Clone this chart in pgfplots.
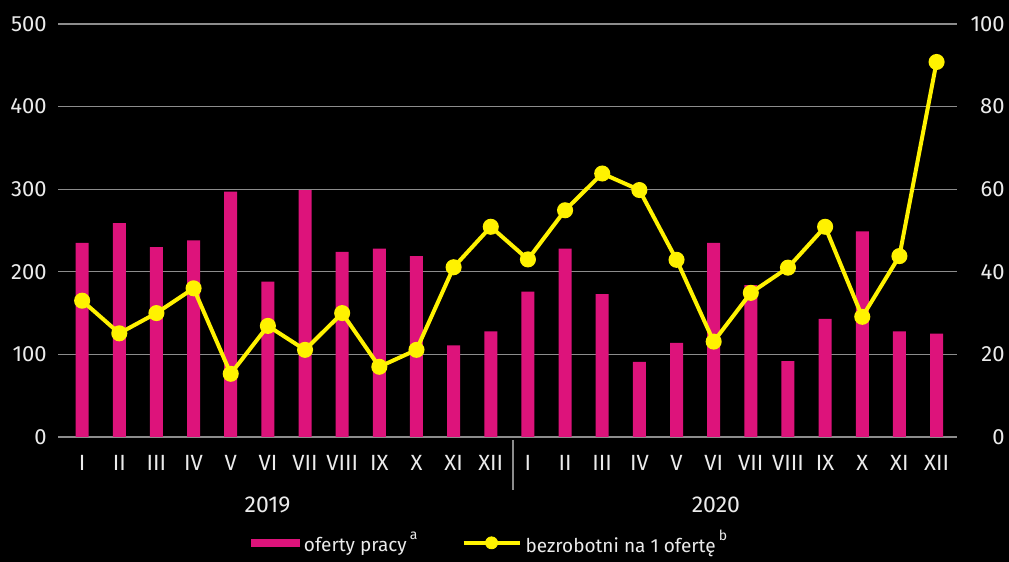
\documentclass[border=0pt]{standalone}
\usepackage{fontspec}
\setmainfont{Fira Sans}
\usepackage{pgfplots}
\pgfplotsset{compat=1.18}
\definecolor{barc}{RGB}{221,19,123}
\definecolor{linc}{RGB}{255,242,0}
\definecolor{grd}{RGB}{140,140,140}
\definecolor{txt}{RGB}{235,235,235}
\begin{document}
\begin{tikzpicture}
\path[use as bounding box] (-29pt,-62.5pt) rectangle (475.5pt,218.5pt);
\fill[black] (-29pt,-62.5pt) rectangle (475.5pt,218.5pt);
\begin{axis}[
  at={(0,0)}, anchor=south west,
  scale only axis, width=449.5pt, height=206.5pt,
  xmin=-0.65, xmax=23.55, ymin=0, ymax=500,
  ytick={0,100,200,300,400,500},
  xtick={0,...,23},
  xticklabels={I,II,III,IV,V,VI,VII,VIII,IX,X,XI,XII,I,II,III,IV,V,VI,VII,VIII,IX,X,XI,XII},
  axis line style={draw=none},
  major tick length=0pt,
  ymajorgrids,
  grid style={grd, line width=0.6pt},
  ticklabel style={txt, font=\fontsize{11}{13}\selectfont},
  /pgf/number format/assume math mode=true,
  yticklabel style={inner sep=0pt, anchor=east, xshift=-5.5pt},
  xticklabel style={inner sep=0pt, anchor=north, yshift=-9pt},
  clip=false,
  legend columns=2,
  legend style={at={(0.4817,-0.2978)}, anchor=south, draw=none, fill=none,
    text=txt, font=\fontsize{9.5}{11}\selectfont, inner sep=0pt,
    /tikz/every even column/.append style={column sep=20pt},
    /tikz/every odd column/.append style={column sep=0pt}},
  legend cell align=left,
]
\addplot[ybar, fill=barc, draw=none, bar width=6.5pt, bar shift=0pt,
  legend image code/.code={\fill[barc] (0pt,-2pt) rectangle (24.5pt,2pt);}]
coordinates {
(0,235) (1,259) (2,230) (3,238) (4,297) (5,188) (6,299) (7,224) (8,228) (9,219) (10,111) (11,128)
(12,176) (13,228) (14,173) (15,91) (16,114) (17,235) (18,184) (19,92) (20,143) (21,249) (22,128) (23,125)
};
\addlegendentry{oferty pracy\,\raisebox{1.2ex}{\fontsize{7}{8}\selectfont a}}
\addlegendimage{legend image code/.code={\draw[linc, line width=2pt] (0pt,0pt) -- (28pt,0pt); \fill[linc] (14pt,0pt) circle (3pt);}}
\addlegendentry{bezrobotni na 1 ofertę\,\raisebox{1.2ex}{\fontsize{7}{8}\selectfont b}}
\draw[grd, line width=0.6pt] ([yshift=-1.5pt]axis cs:11.6,0) -- ([yshift=-26.5pt]axis cs:11.6,0);
\node[txt, font=\fontsize{11.5}{13}\selectfont] at (axis cs:4.99,0) [yshift=-34pt] {2019};
\node[txt, font=\fontsize{11.5}{13}\selectfont] at (axis cs:17.06,0) [yshift=-34pt] {2020};
\end{axis}
\begin{axis}[
  at={(0,0)}, anchor=south west,
  scale only axis, width=449.5pt, height=206.5pt,
  xmin=-0.65, xmax=23.55, ymin=0, ymax=100,
  ytick={0,20,40,60,80,100},
  xtick=\empty,
  axis x line=none,
  axis y line*=right,
  axis line style={draw=none},
  major tick length=0pt,
  ticklabel style={txt, font=\fontsize{11}{13}\selectfont},
  /pgf/number format/assume math mode=true,
  yticklabel style={inner sep=0pt, anchor=east, xshift=24pt},
  clip=false,
]
\addplot[linc, line width=2pt, mark=*, mark size=3pt, mark options={fill=linc, draw=linc}]
coordinates {
(0,33.0) (1,25.1) (2,30.0) (3,36.0) (4,15.3) (5,26.9) (6,21.1) (7,30.0) (8,17.0) (9,21.1) (10,41.1) (11,50.9)
(12,43.0) (13,54.9) (14,63.8) (15,59.8) (16,42.9) (17,23.1) (18,34.9) (19,41.0) (20,50.9) (21,29.1) (22,43.8) (23,90.8)
};
\end{axis}
\end{tikzpicture}
\end{document}
